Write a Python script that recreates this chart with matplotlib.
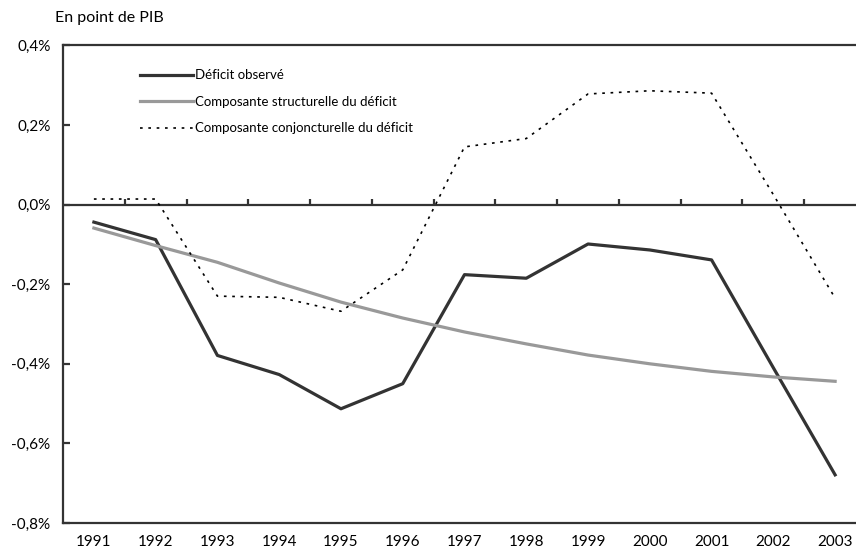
import matplotlib.pyplot as plt
from matplotlib.ticker import FuncFormatter

plt.rcParams['font.family'] = ['Lato', 'DejaVu Sans']

years = ['1991', '1992', '1993', '1994', '1995', '1996', '1997',
         '1998', '1999', '2000', '2001', '2002', '2003']

# en point de PIB (%)
deficit_observe = [-0.044, -0.088, -0.379, -0.427, -0.513, -0.45, -0.176,
                   -0.185, -0.099, -0.114, -0.139, -0.41, -0.679]
structurel = [-0.059, -0.103, -0.145, -0.197, -0.245, -0.285, -0.32,
              -0.35, -0.378, -0.40, -0.419, -0.433, -0.444]
conjoncturel = [0.014, 0.014, -0.23, -0.233, -0.268, -0.164, 0.145,
                0.166, 0.278, 0.286, 0.28, 0.025, -0.235]

fig = plt.figure(figsize=(8.56, 5.55), dpi=100)
ax = fig.add_axes([63 / 856, 32 / 555, 803 / 856, 477.6 / 555])

x = list(range(len(years)))
ax.plot(x, deficit_observe, color='#333333', lw=2.3, label='Déficit observé')
ax.plot(x, structurel, color='#999999', lw=2.3,
        label='Composante structurelle du déficit')
ax.plot(x, conjoncturel, color='black', lw=1.2, ls=(0, (1.6, 3.4)),
        label='Composante conjoncturelle du déficit')

ax.set_xlim(-0.5, len(years) - 0.5)
ax.set_ylim(-0.8, 0.4)

# axe horizontal au niveau zéro avec graduations entre les années
ax.axhline(0, color='#333333', lw=1.6, zorder=1)
ax.vlines([i + 0.5 for i in x[:-1]], 0, 0.013, color='#333333', lw=1.6)

ax.set_xticks(x)
ax.set_xticklabels(years)
ax.tick_params(axis='x', length=0, pad=9, labelsize=11)

ax.set_yticks([0.4, 0.2, 0.0, -0.2, -0.4, -0.6, -0.8])
ax.yaxis.set_major_formatter(FuncFormatter(lambda v, p: f'{v:.1f}%'.replace('.', ',')))
ax.tick_params(axis='y', direction='in', length=5, width=1.6, color='#333333',
               pad=9, labelsize=11)

for side in ['left', 'top', 'bottom', 'right']:
    ax.spines[side].set_color('#333333')
    ax.spines[side].set_linewidth(1.6)

leg = ax.legend(loc='upper left', bbox_to_anchor=(0.081, 0.975), frameon=False,
                fontsize=9.5, handlelength=4.0, handletextpad=0.15,
                labelspacing=1.1)

fig.text(55 / 856, 1 - 18 / 555, 'En point de PIB', fontsize=11.5, va='center')

fig.savefig('out.png', dpi=100)
